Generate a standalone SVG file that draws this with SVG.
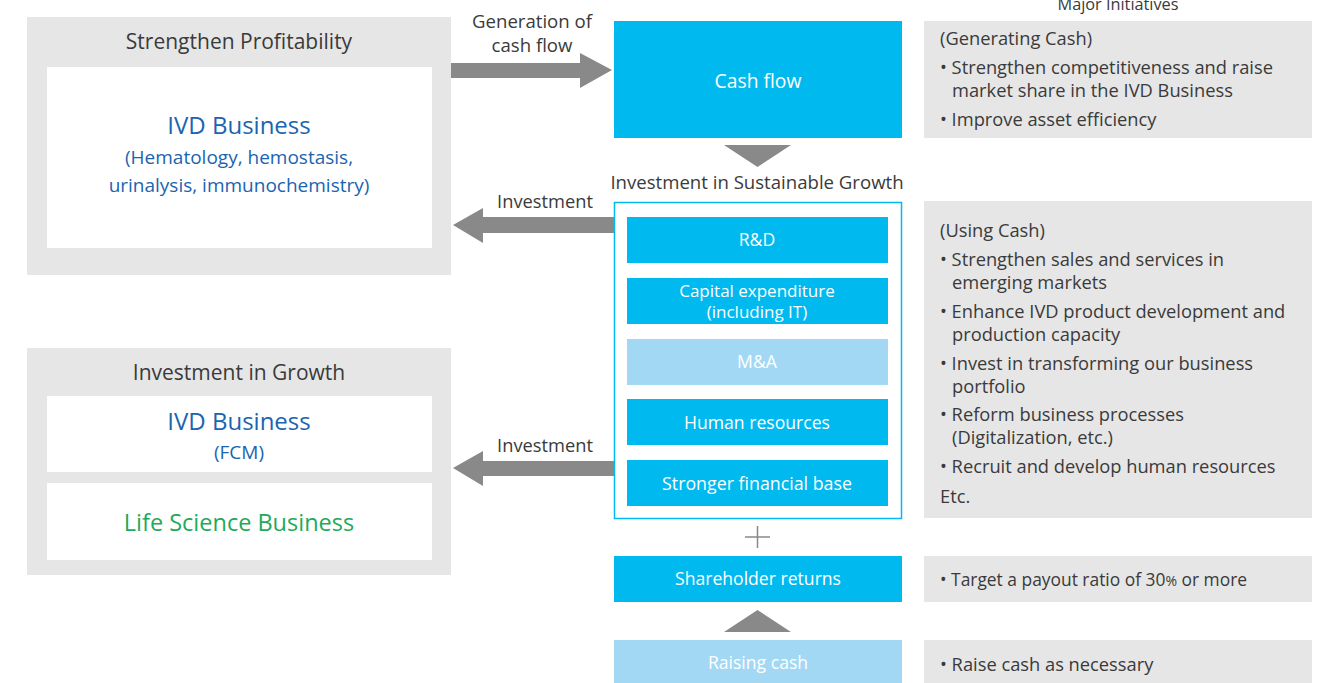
<svg xmlns="http://www.w3.org/2000/svg" width="1329" height="683" viewBox="0 0 1329 683">
<style>
text{font-family:"Open Sans","Noto Sans",sans-serif;}
.gray{fill:#e6e6e6;}
.white{fill:#ffffff;}
.cyan{fill:#00b9ef;}
.light{fill:#a3d8f4;}
.arrow{fill:#898989;}
.t{fill:#3a3a3a;font-size:18.3px;}
.c{text-anchor:middle;}
.w{fill:#ffffff;font-size:17.6px;text-anchor:middle;}
.blue{fill:#1a64b0;text-anchor:middle;}
.green{fill:#1eaa5a;text-anchor:middle;}
</style>
<rect width="1329" height="683" fill="#ffffff"/>
<g id="strengthen-profitability">
<rect class="gray" x="27" y="17" width="424" height="258"/>
<text class="t c" x="239" y="49" style="font-size:21px">Strengthen Profitability</text>
<rect class="white" x="47" y="67" width="385" height="181"/>
<text class="blue" x="239" y="134" style="font-size:24px">IVD Business</text>
<text class="blue" x="239" y="164" style="font-size:19px">(Hematology, hemostasis,</text>
<text class="blue" x="239" y="192" style="font-size:19px">urinalysis, immunochemistry)</text>
</g>
<g id="investment-in-growth">
<rect class="gray" x="27" y="348" width="424" height="227"/>
<text class="t c" x="239" y="380" style="font-size:21px">Investment in Growth</text>
<rect class="white" x="47" y="396" width="385" height="76"/>
<text class="blue" x="239" y="430" style="font-size:24px">IVD Business</text>
<text class="blue" x="239" y="459" style="font-size:19px">(FCM)</text>
<rect class="white" x="47" y="483" width="385" height="77"/>
<text class="green" x="239" y="531" style="font-size:23.5px">Life Science Business</text>
</g>
<g id="cash-flow">
<rect class="cyan" x="614" y="21" width="288" height="117"/>
<text class="w" x="758" y="88" style="font-size:19.3px">Cash flow</text>
</g>
<g id="sustainable-growth">
<text class="t c" x="757" y="189" style="font-size:18.6px">Investment in Sustainable Growth</text>
<rect x="614.5" y="202.5" width="287" height="316" fill="none" stroke="#00b9ef" stroke-width="1.5"/>
<g id="rd"><rect class="cyan" x="627" y="217" width="261" height="46"/><text class="w" x="757" y="246">R&amp;D</text></g>
<g id="capex"><rect class="cyan" x="627" y="278" width="261" height="46"/><text class="w" x="757" y="297" style="font-size:17px">Capital expenditure</text><text class="w" x="757" y="318" style="font-size:17px">(including IT)</text></g>
<g id="ma"><rect class="light" x="627" y="339" width="261" height="46"/><text class="w" x="757" y="368">M&amp;A</text></g>
<g id="human"><rect class="cyan" x="627" y="399" width="261" height="46"/><text class="w" x="757" y="429">Human resources</text></g>
<g id="financial"><rect class="cyan" x="627" y="460" width="261" height="46"/><text class="w" x="757" y="490" style="font-size:17.8px">Stronger financial base</text></g>
</g>
<g id="plus">
<path d="M745 537H770M757.5 526V548" stroke="#898989" stroke-width="1.5" fill="none"/>
</g>
<g id="shareholder-returns">
<rect class="cyan" x="614" y="556" width="288" height="46"/>
<text class="w" x="758" y="585">Shareholder returns</text>
</g>
<g id="raising-cash">
<rect class="light" x="614" y="640" width="288" height="43"/>
<text class="w" x="758" y="669">Raising cash</text>
</g>
<g id="connectors">
<polygon class="arrow" points="451,63 580,63 580,53 612,70 580,88 580,78 451,78"/>
<text class="t c" x="532" y="28" style="font-size:18.6px">Generation of</text>
<text class="t c" x="532" y="52" style="font-size:18.6px">cash flow</text>
<polygon class="arrow" points="724,145 791,145 757.5,167"/>
<polygon class="arrow" points="614,217 483,217 483,208 453,225 483,243 483,233 614,233"/>
<text class="t c" x="545" y="208">Investment</text>
<polygon class="arrow" points="614,461 483,461 483,451 453,468 483,486 483,476 614,476"/>
<text class="t c" x="545" y="452">Investment</text>
<polygon class="arrow" points="724,632 791,632 757.5,610"/>
</g>
<g id="major-initiatives">
<text class="t c" x="1118" y="10" style="font-size:16.3px">Major Initiatives</text>
</g>
<g id="init-generating">
<rect class="gray" x="924" y="21" width="388" height="117"/>
<text class="t" x="940" y="45">(Generating Cash)</text>
<text class="t" x="940" y="74">• Strengthen competitiveness and raise</text>
<text class="t" x="952" y="97">market share in the IVD Business</text>
<text class="t" x="940" y="126">• Improve asset efficiency</text>
</g>
<g id="init-using">
<rect class="gray" x="924" y="201" width="388" height="317"/>
<text class="t" x="940" y="237">(Using Cash)</text>
<text class="t" x="940" y="266">• Strengthen sales and services in</text>
<text class="t" x="952" y="289">emerging markets</text>
<text class="t" x="940" y="318">• Enhance IVD product development and</text>
<text class="t" x="952" y="341">production capacity</text>
<text class="t" x="940" y="370">• Invest in transforming our business</text>
<text class="t" x="952" y="393">portfolio</text>
<text class="t" x="940" y="421">• Reform business processes</text>
<text class="t" x="952" y="444">(Digitalization, etc.)</text>
<text class="t" x="940" y="473">• Recruit and develop human resources</text>
<text class="t" x="940" y="503">Etc.</text>
</g>
<g id="init-shareholder">
<rect class="gray" x="924" y="556" width="388" height="46"/>
<text class="t" x="940" y="586" style="font-size:17.4px">• Target a payout ratio of 30<tspan style="font-size:14px">%</tspan> or more</text>
</g>
<g id="init-raising">
<rect class="gray" x="924" y="640" width="388" height="43"/>
<text class="t" x="940" y="671">• Raise cash as necessary</text>
</g>
</svg>
